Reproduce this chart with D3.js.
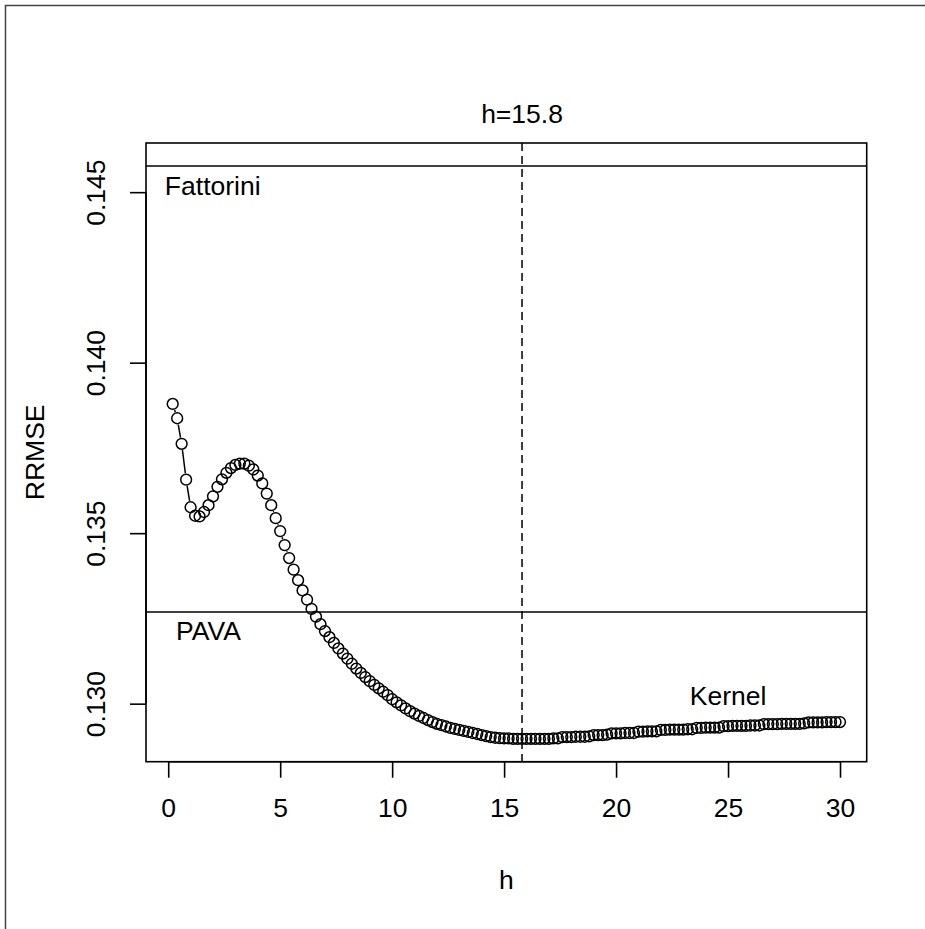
<!DOCTYPE html>
<html>
<head>
<meta charset="utf-8">
<script src="https://cdn.jsdelivr.net/npm/d3@7"></script>
<style>
  html, body { margin: 0; background: #fff; overflow: hidden; }
  svg { display: block; }
  text { font-family: "Liberation Sans", Arial, sans-serif; fill: #000; }
</style>
</head>
<body>
<div id="chart"></div>
<script>
// bandwidth grid h = 0.2, 0.4, ..., 30
var hStep = 0.2;
var rrmse = [
  0.13879, 0.13837, 0.13762, 0.13657, 0.13576, 0.13551, 0.13549, 0.13562, 0.13582, 0.13608,
  0.13636, 0.13658, 0.13677, 0.13691, 0.13700, 0.13704, 0.13704, 0.13698, 0.13687, 0.13669,
  0.13646, 0.13616, 0.13582, 0.13544, 0.13506, 0.13465, 0.13427, 0.13393, 0.13362, 0.13332,
  0.13305, 0.13278, 0.13255, 0.13233, 0.13213, 0.13195, 0.13178, 0.13162, 0.13147, 0.13132,
  0.13117, 0.13103, 0.13090, 0.13078, 0.13066, 0.13055, 0.13045, 0.13035, 0.13025, 0.13013,
  0.13004, 0.12995, 0.12986, 0.12978, 0.12971, 0.12964, 0.12958, 0.12952, 0.12946, 0.12941,
  0.12937, 0.12933, 0.12929, 0.12926, 0.12923, 0.12920, 0.12917, 0.12914, 0.12911, 0.12908,
  0.12905, 0.12902, 0.12900, 0.12899, 0.12898, 0.12898, 0.12897, 0.12897, 0.12897, 0.12897,
  0.12897, 0.12897, 0.12897, 0.12897, 0.12897, 0.12898, 0.12898, 0.12902, 0.12902, 0.12902,
  0.12903, 0.12903, 0.12903, 0.12904, 0.12908, 0.12908, 0.12908, 0.12909, 0.12913, 0.12913,
  0.12913, 0.12914, 0.12914, 0.12914, 0.12918, 0.12918, 0.12919, 0.12919, 0.12919, 0.12923,
  0.12923, 0.12924, 0.12924, 0.12924, 0.12924, 0.12925, 0.12925, 0.12929, 0.12929, 0.12930,
  0.12930, 0.12930, 0.12930, 0.12934, 0.12934, 0.12935, 0.12935, 0.12935, 0.12935, 0.12936,
  0.12936, 0.12936, 0.12940, 0.12940, 0.12940, 0.12940, 0.12941, 0.12941, 0.12941, 0.12941,
  0.12941, 0.12942, 0.12945, 0.12945, 0.12945, 0.12945, 0.12946, 0.12946, 0.12946, 0.12946
];
var fattorini = 0.14577;
var pava = 0.13269;
var hOpt = 15.8;
var xTicks = [0, 5, 10, 15, 20, 25, 30];
var yTicks = [0.130, 0.135, 0.140, 0.145];

var data = rrmse.map(function(v, i) {
  return { h: +((i + 1) * hStep).toFixed(1), v: v };
});

var W = 925, H = 929;
var plot = { left: 146, right: 866.7, top: 143, bottom: 761.7 };
var fs = 26.5;

var svg = d3.select("#chart").append("svg")
  .attr("width", W)
  .attr("height", H);

// R style 4% axis extension
function rlim(lo, hi) {
  var d = (hi - lo) * 0.04;
  return [lo - d, hi + d];
}
var xExt = d3.extent(data, function(d) { return d.h; });
var allY = rrmse.concat([fattorini, pava]);

var x = d3.scaleLinear()
  .domain(rlim(xExt[0], xExt[1]))
  .range([plot.left, plot.right]);
var y = d3.scaleLinear()
  .domain(rlim(d3.min(allY), d3.max(allY)))
  .range([plot.bottom, plot.top]);

// outer frame of the device: only top and left edges are in the picture
svg.append("path")
  .attr("d", "M5.5," + H + "V5.5H" + W)
  .attr("fill", "none")
  .attr("stroke", "#444")
  .attr("stroke-width", 1.5);

// x axis
var xAxis = svg.append("g")
  .attr("transform", "translate(0," + plot.bottom + ")")
  .call(d3.axisBottom(x).tickValues(xTicks).tickSize(16).tickSizeOuter(0).tickPadding(20));
xAxis.select(".domain").remove();
xAxis.append("line")
  .attr("x1", x(xTicks[0])).attr("x2", x(xTicks[xTicks.length - 1]))
  .attr("stroke", "#000").attr("stroke-width", 1.6);
xAxis.selectAll(".tick line").attr("stroke", "#000").attr("stroke-width", 1.6);
xAxis.selectAll(".tick text")
  .style("font-size", fs + "px")
  .attr("font-family", null);

// y axis, labels parallel to the axis like R
var yAxis = svg.append("g")
  .attr("transform", "translate(" + plot.left + ",0)")
  .call(d3.axisLeft(y).tickValues(yTicks).tickSize(16).tickSizeOuter(0).tickFormat(d3.format(".3f")));
yAxis.select(".domain").remove();
yAxis.append("line")
  .attr("y1", y(yTicks[0])).attr("y2", y(yTicks[yTicks.length - 1]))
  .attr("stroke", "#000").attr("stroke-width", 1.6);
yAxis.selectAll(".tick line").attr("stroke", "#000").attr("stroke-width", 1.6);
yAxis.selectAll(".tick text")
  .attr("x", null).attr("dy", null)
  .attr("text-anchor", "middle")
  .attr("transform", "translate(-41,0) rotate(-90)")
  .style("font-size", fs + "px")
  .attr("font-family", null);

// box
svg.append("rect")
  .attr("x", plot.left).attr("y", plot.top)
  .attr("width", plot.right - plot.left)
  .attr("height", plot.bottom - plot.top)
  .attr("fill", "none")
  .attr("stroke", "#000")
  .attr("stroke-width", 1.6);

// reference lines
svg.append("line")
  .attr("x1", plot.left).attr("x2", plot.right)
  .attr("y1", y(fattorini)).attr("y2", y(fattorini))
  .attr("stroke", "#000").attr("stroke-width", 1.5);
svg.append("line")
  .attr("x1", plot.left).attr("x2", plot.right)
  .attr("y1", y(pava)).attr("y2", y(pava))
  .attr("stroke", "#000").attr("stroke-width", 1.5);
svg.append("line")
  .attr("x1", x(hOpt)).attr("x2", x(hOpt))
  .attr("y1", plot.top).attr("y2", plot.bottom)
  .attr("stroke", "#000").attr("stroke-width", 1.5)
  .attr("stroke-dasharray", "8,5");

// type = "b": segments with gaps around the points
var r = 5.4, gap = r + 1;
var segs = d3.pairs(data).map(function(p) {
  var x1 = x(p[0].h), y1 = y(p[0].v), x2 = x(p[1].h), y2 = y(p[1].v);
  var dx = x2 - x1, dy = y2 - y1, len = Math.sqrt(dx * dx + dy * dy);
  if (len <= 2 * gap) return null;
  var ux = dx / len, uy = dy / len;
  return [x1 + ux * gap, y1 + uy * gap, x2 - ux * gap, y2 - uy * gap];
}).filter(function(s) { return s; });

svg.append("g").selectAll("line")
  .data(segs)
  .enter()
  .append("line")
  .attr("x1", function(s) { return s[0]; })
  .attr("y1", function(s) { return s[1]; })
  .attr("x2", function(s) { return s[2]; })
  .attr("y2", function(s) { return s[3]; })
  .attr("stroke", "#000")
  .attr("stroke-width", 1.5);

svg.append("g").selectAll("circle")
  .data(data)
  .enter()
  .append("circle")
  .attr("cx", function(d) { return x(d.h); })
  .attr("cy", function(d) { return y(d.v); })
  .attr("r", r)
  .attr("fill", "none")
  .attr("stroke", "#000")
  .attr("stroke-width", 1.5);

// labels
svg.append("text")
  .attr("x", x(-0.15)).attr("y", y(fattorini) + 29)
  .style("font-size", fs + "px")
  .text("Fattorini");
svg.append("text")
  .attr("x", x(0.35)).attr("y", y(pava) + 28)
  .style("font-size", fs + "px")
  .text("PAVA");
svg.append("text")
  .attr("x", x(25)).attr("y", y(0.13) + 1)
  .attr("text-anchor", "middle")
  .style("font-size", fs + "px")
  .text("Kernel");

// title and axis titles
svg.append("text")
  .attr("x", x(hOpt)).attr("y", 123)
  .attr("text-anchor", "middle")
  .style("font-size", fs + "px")
  .text("h=" + hOpt);
svg.append("text")
  .attr("x", (plot.left + plot.right) / 2).attr("y", 889)
  .attr("text-anchor", "middle")
  .style("font-size", fs + "px")
  .text("h");
svg.append("text")
  .attr("transform", "translate(44," + (plot.top + plot.bottom) / 2 + ") rotate(-90)")
  .attr("text-anchor", "middle")
  .style("font-size", fs + "px")
  .text("RRMSE");
</script>
</body>
</html>
